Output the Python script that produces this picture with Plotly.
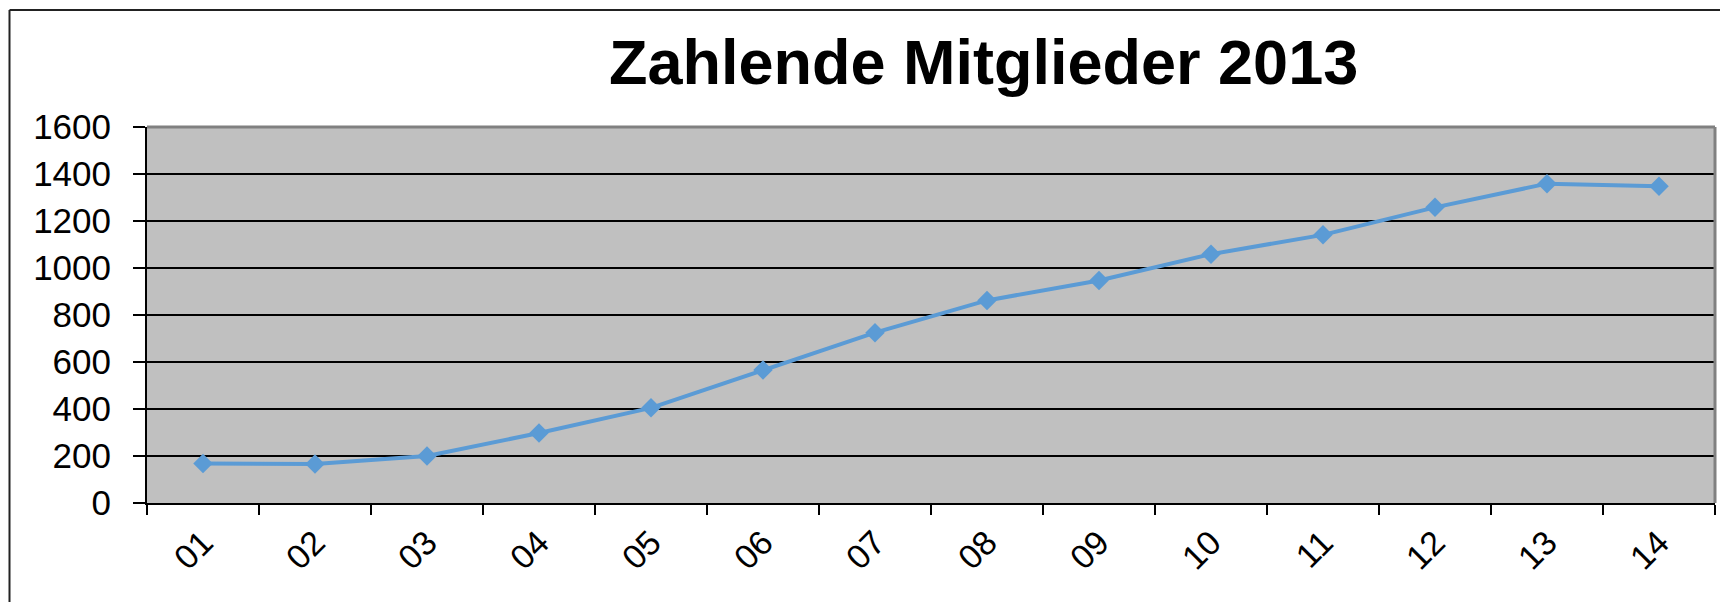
import plotly.graph_objects as go

# Data
months = ["01", "02", "03", "04", "05", "06", "07", "08", "09", "10", "11", "12", "13", "14"]
members = [168, 166, 200, 298, 405, 566, 725, 862, 947, 1059, 1141, 1258, 1359, 1348]
y_ticks = [0, 200, 400, 600, 800, 1000, 1200, 1400, 1600]
title_text = "Zahlende Mitglieder 2013"

OFF = 8  # default body margin of the html page
W, H = 1728 - OFF, 602 - OFF
# plot area in page pixels
PL, PR, PT, PB = 147, 1715, 127, 503
L, R, T, B = PL - OFF, PR - OFF, PT - OFF, PB - OFF
pw, ph = R - L, B - T

def px_x(px):
    return (px - OFF - L) / pw

def px_y(py):
    return (B - (py - OFF)) / ph

FONT = "Liberation Sans, Arial, sans-serif"

fig = go.Figure()
fig.add_trace(go.Scatter(
    x=months, y=members, mode="lines+markers",
    line=dict(color="#5B9BD5", width=4),
    marker=dict(symbol="diamond", size=15, color="#5B9BD5"),
    showlegend=False, cliponaxis=False,
))

fig.update_layout(
    width=W, height=H,
    margin=dict(l=L, r=W - R, t=T, b=H - B, pad=0),
    paper_bgcolor="white", plot_bgcolor="#C0C0C0",
    font=dict(family=FONT, color="black"),
    annotations=[dict(
        text="<b>" + title_text + "</b>", xref="paper", yref="paper",
        x=px_x(983), y=px_y(62), xanchor="center", yanchor="middle",
        showarrow=False, font=dict(size=63, family=FONT, color="black"),
    )],
    shapes=[
        # outer frame (left & top)
        dict(type="line", xref="paper", yref="paper", x0=px_x(9.5), x1=px_x(1760),
             y0=px_y(10), y1=px_y(10), line=dict(color="#222222", width=2)),
        dict(type="line", xref="paper", yref="paper", x0=px_x(9.5), x1=px_x(9.5),
             y0=px_y(10), y1=px_y(640), line=dict(color="#222222", width=2)),
        # plot area top/right border (gray)
        dict(type="line", xref="paper", yref="paper", x0=0, x1=1, y0=1, y1=1,
             line=dict(color="#808080", width=3), layer="above"),
        dict(type="line", xref="paper", yref="paper", x0=1, x1=1, y0=0, y1=1,
             line=dict(color="#808080", width=3), layer="above"),
    ],
)

fig.update_xaxes(
    type="category", range=[-0.5, len(months) - 0.5],
    tickson="boundaries", ticks="outside", ticklen=10, tickwidth=2, tickcolor="black",
    showline=True, linecolor="black", linewidth=2, showgrid=False,
    tickangle=-45, tickfont=dict(size=34, family=FONT, color="black"),
    ticklabelstandoff=4,
)
fig.update_yaxes(
    range=[0, 1600], tickvals=y_ticks, ticktext=[str(v) for v in y_ticks],
    ticks="outside", ticklen=12, tickwidth=2, tickcolor="black",
    showline=True, linecolor="black", linewidth=2,
    showgrid=True, gridcolor="black", gridwidth=2, zeroline=False,
    tickfont=dict(size=35, family=FONT, color="black"),
    ticklabelstandoff=15,
)

fig.write_html("out.html")
